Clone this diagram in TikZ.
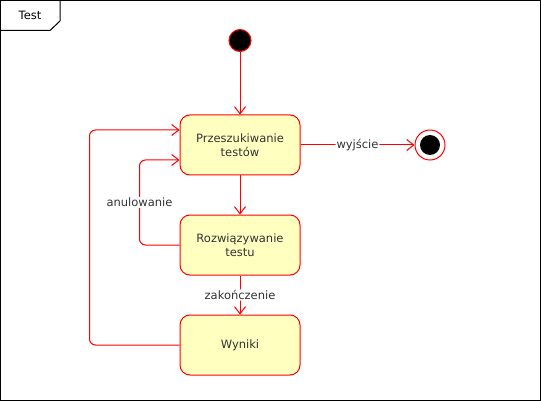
\documentclass[tikz,border=0pt]{standalone}
\usepackage{fontspec}
\setmainfont{DejaVu Sans}
\usepackage{xcolor}
\usepackage{tikz}
\usetikzlibrary{arrows.meta,positioning,calc}

\definecolor{umlred}{HTML}{FF0000}
\definecolor{umlfill}{HTML}{FFFFC0}
\definecolor{umltext}{HTML}{333333}

\begin{document}
\begin{tikzpicture}[
    x=1pt, y=-1pt, line width=1pt,
    font=\fontsize{11.5}{13.5}\selectfont,
    state/.style={rectangle, rounded corners=10pt, draw=umlred, fill=umlfill, text=umltext,
      minimum width=120pt, minimum height=60pt, align=center, inner sep=0pt},
    arrow/.style={-{Straight Barb[length=7pt, width=11pt]}, draw=umlred, rounded corners=6pt},
    guard/.style={fill=white, text=umltext, inner sep=1pt}
  ]
    \useasboundingbox (0,0) rectangle (541,401);
    % frame with name tab
    \draw[black] (0.5,0.5) rectangle (540.5,400.5);
    \draw[black] (60,0.5) -- (60,21) -- (50,30.5) -- (0.5,30.5);
    \node[anchor=center] (frame) at (30,15) {Test};

    \node[circle, draw=umlred, fill=black, minimum size=22pt, inner sep=0pt] (start) at (240,40.5) {};
    \node[state] (search) at (240,145) {Przeszukiwanie\\testów};
    \node[state] (solve) at (240,245) {Rozwiązywanie\\testu};
    \node[state] (result) at (240,345) {Wyniki};
    \node[circle, draw=umlred, fill=white, minimum size=30pt, inner sep=0pt] (stop) at (430,145) {};
    \node[circle, fill=black, minimum size=20pt, inner sep=0pt] (stopdot) at (stop) {};

    \draw[arrow] (start) -- (search);
    \draw[arrow] (search) -- node[guard] {wyjście} (stop);
    \draw[arrow] (search) -- (solve);
    \draw[arrow] (solve) -- node[guard] {zakończenie} (result);
    \draw[arrow] (solve.west) -- ($(solve.west)+(-40,0)$)
      -- node[guard] {anulowanie} ($(search.west)+(-40,15)$) -- ($(search.west)+(0,15)$);
    \draw[arrow] (result.west) -- ($(result.west)+(-90,0)$)
      -- ($(search.west)+(-90,-15)$) -- ($(search.west)+(0,-15)$);
  \end{tikzpicture}
\end{document}
